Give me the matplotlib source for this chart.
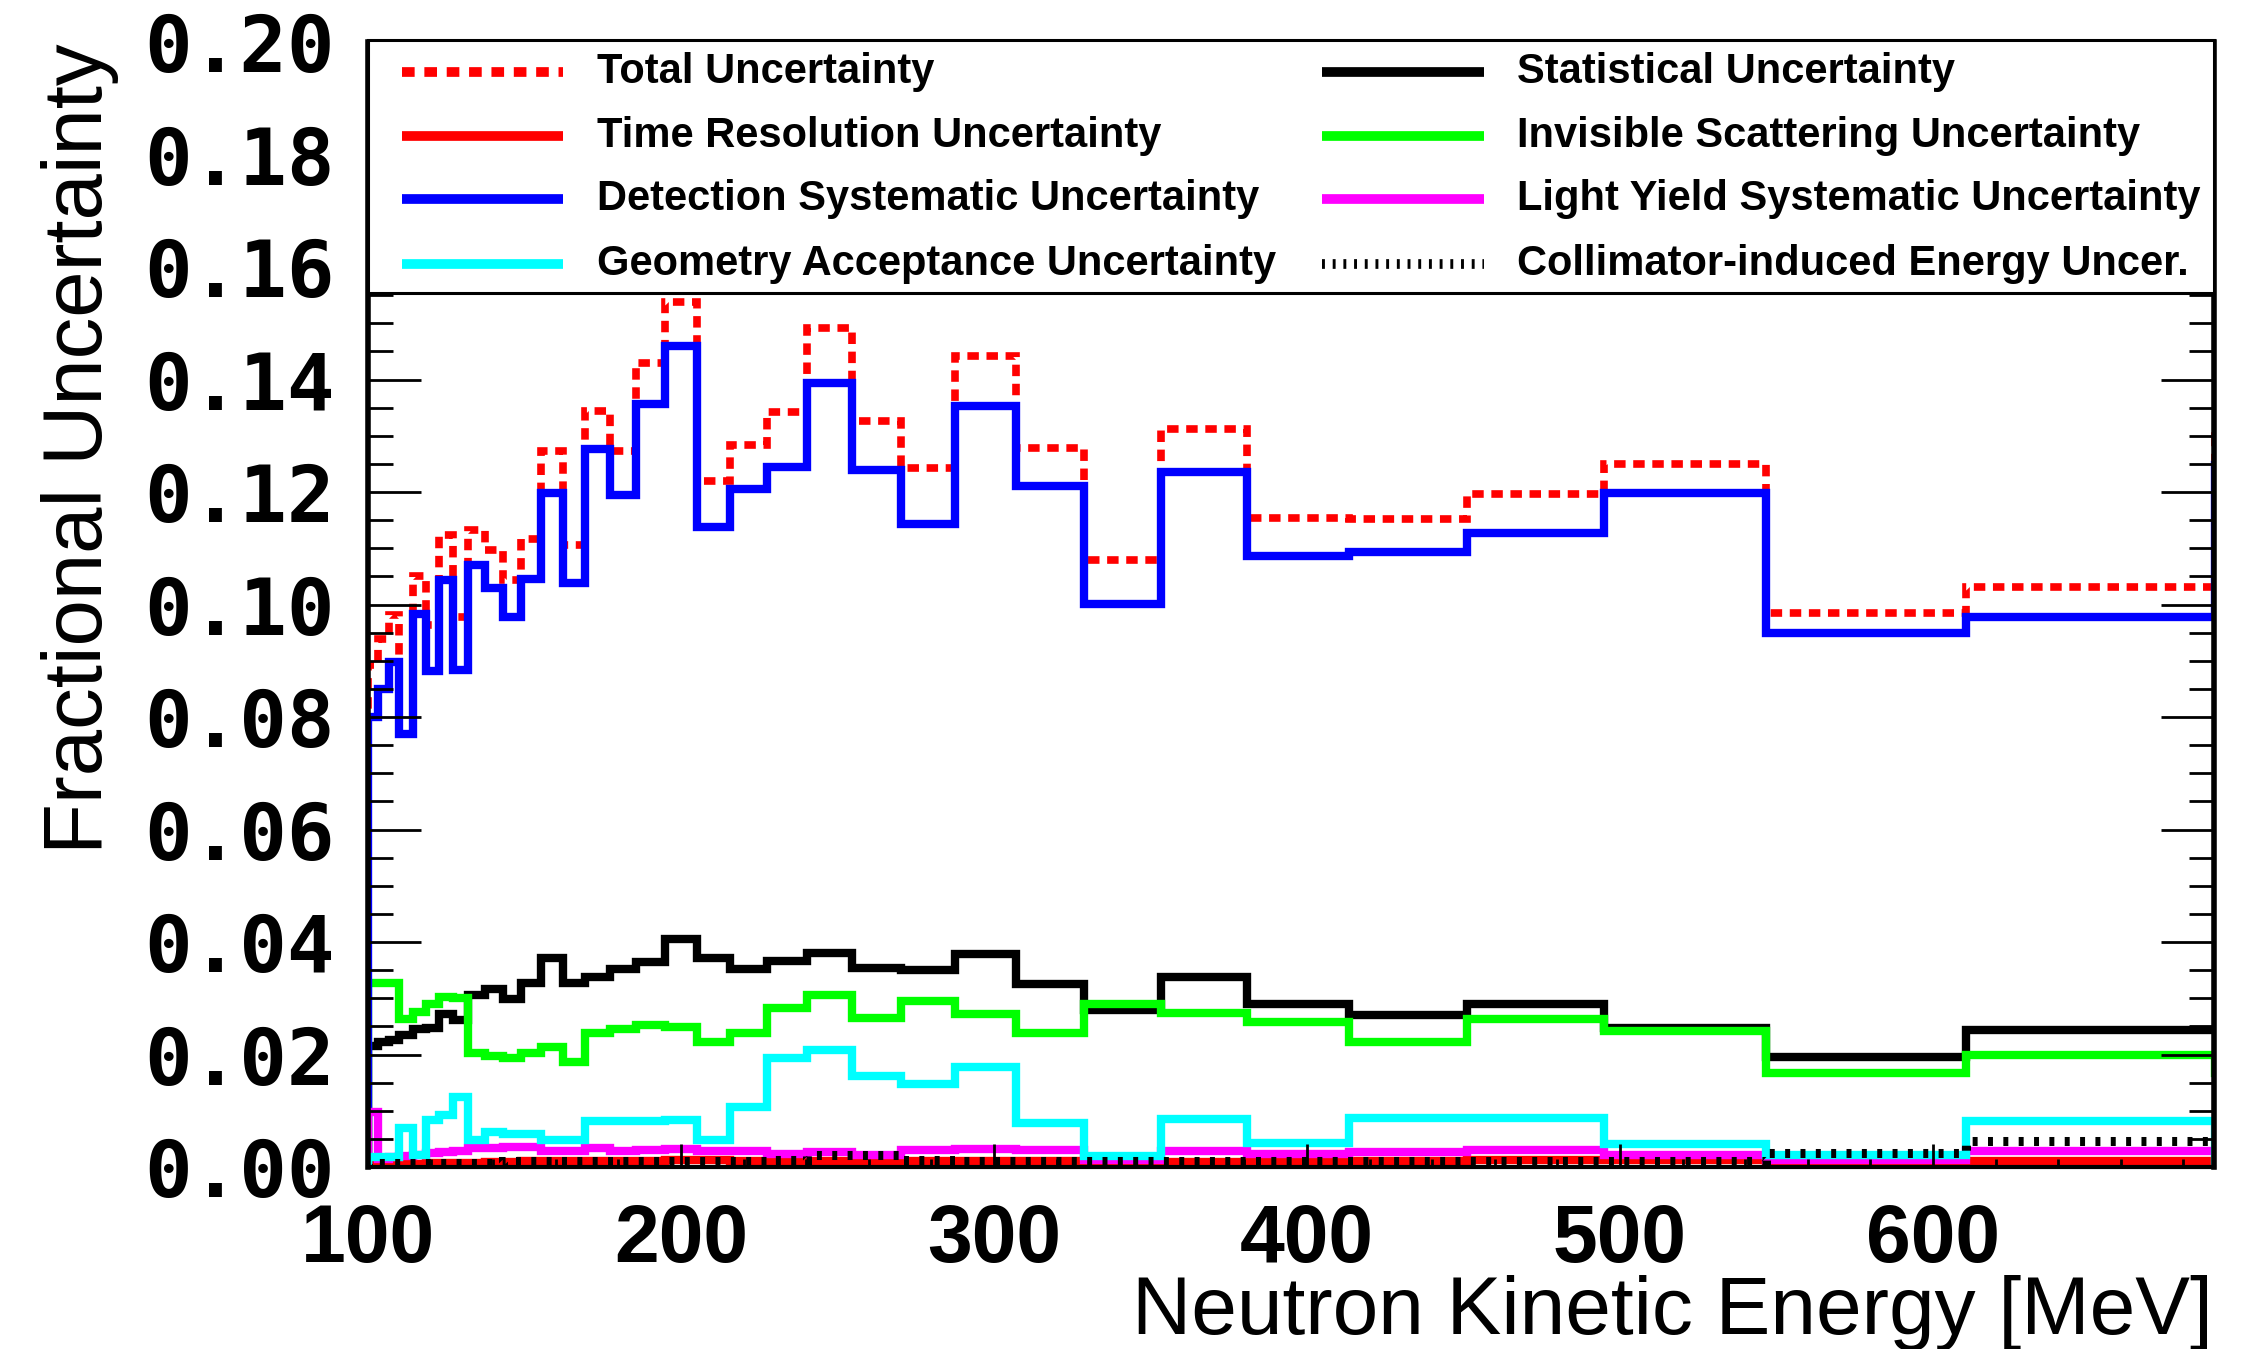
import matplotlib
matplotlib.use("Agg")
import matplotlib.pyplot as plt
from matplotlib.patches import Rectangle
from matplotlib.lines import Line2D
from matplotlib.ticker import MultipleLocator

# bin edges in neutron kinetic energy (MeV); last bin lies past the axis edge
energy_edges = [100.0, 103.3, 106.8, 110.0, 114.3, 118.5, 122.8, 127.3, 132.0, 137.4,
                143.0, 148.8, 155.2, 162.2, 169.3, 177.3, 185.6, 194.9, 205.0, 215.7,
                227.4, 240.4, 254.5, 270.2, 287.5, 306.9, 328.8, 353.4, 380.7, 413.3,
                451.1, 494.8, 546.8, 610.6, 690.0, 790.0]

total_unc = [0.0893, 0.0938, 0.0982, 0.0850, 0.1051, 0.0964, 0.1124, 0.0978, 0.1133, 0.1097,
             0.1043, 0.1116, 0.1273, 0.1106, 0.1344, 0.1273, 0.1430, 0.1537, 0.1219, 0.1283,
             0.1343, 0.1492, 0.1327, 0.1242, 0.1442, 0.1278, 0.1079, 0.1312, 0.1154, 0.1152,
             0.1196, 0.1249, 0.0985, 0.1032, 0.1300]
stat_unc = [0.0215, 0.0222, 0.0226, 0.0235, 0.0245, 0.0248, 0.0272, 0.0262, 0.0306, 0.0316,
            0.0298, 0.0327, 0.0371, 0.0327, 0.0338, 0.0352, 0.0364, 0.0406, 0.0371, 0.0352,
            0.0367, 0.0380, 0.0354, 0.0351, 0.0378, 0.0325, 0.0279, 0.0337, 0.0290, 0.0271,
            0.0289, 0.0247, 0.0196, 0.0243, 0.0243]
time_res_unc = [0.0004, 0.0005, 0.0005, 0.0006, 0.0006, 0.0007, 0.0007, 0.0008, 0.0008, 0.0009,
                0.0009, 0.0010, 0.0010, 0.0010, 0.0011, 0.0011, 0.0011, 0.0012, 0.0012, 0.0011,
                0.0011, 0.0011, 0.0010, 0.0010, 0.0010, 0.0010, 0.0008, 0.0009, 0.0011, 0.0011,
                0.0012, 0.0012, 0.0006, 0.0010, 0.0010]
invis_scat_unc = [0.0327, 0.0327, 0.0327, 0.0263, 0.0275, 0.0290, 0.0303, 0.0300, 0.0202, 0.0198,
                  0.0194, 0.0202, 0.0214, 0.0187, 0.0238, 0.0245, 0.0252, 0.0249, 0.0223, 0.0238,
                  0.0283, 0.0305, 0.0265, 0.0295, 0.0272, 0.0239, 0.0290, 0.0273, 0.0257, 0.0223,
                  0.0263, 0.0242, 0.0168, 0.0200, 0.0168]
detection_unc = [0.0800, 0.0850, 0.0898, 0.0770, 0.0984, 0.0881, 0.1043, 0.0884, 0.1070, 0.1029,
                 0.0978, 0.1046, 0.1198, 0.1038, 0.1276, 0.1195, 0.1357, 0.1459, 0.1138, 0.1206,
                 0.1245, 0.1394, 0.1240, 0.1144, 0.1353, 0.1210, 0.1001, 0.1235, 0.1086, 0.1093,
                 0.1127, 0.1199, 0.0950, 0.0978, 0.1248]
light_yield_unc = [0.0098, 0.0015, 0.0017, 0.0020, 0.0021, 0.0025, 0.0027, 0.0028, 0.0033, 0.0033,
                   0.0036, 0.0035, 0.0029, 0.0029, 0.0033, 0.0029, 0.0030, 0.0032, 0.0028, 0.0028,
                   0.0024, 0.0026, 0.0022, 0.0030, 0.0032, 0.0031, 0.0012, 0.0028, 0.0024, 0.0026,
                   0.0030, 0.0022, 0.0012, 0.0029, 0.0029]
geometry_unc = [0.0018, 0.0018, 0.0018, 0.0069, 0.0022, 0.0084, 0.0093, 0.0125, 0.0048, 0.0062,
                0.0058, 0.0058, 0.0048, 0.0048, 0.0081, 0.0081, 0.0082, 0.0083, 0.0048, 0.0107,
                0.0193, 0.0208, 0.0162, 0.0147, 0.0177, 0.0079, 0.0020, 0.0085, 0.0043, 0.0088,
                0.0087, 0.0041, 0.0022, 0.0082, 0.0004]
collimator_unc = [0.0008, 0.0008, 0.0008, 0.0008, 0.0008, 0.0008, 0.0008, 0.0008, 0.0008, 0.0008,
                  0.0010, 0.0010, 0.0010, 0.0010, 0.0010, 0.0010, 0.0010, 0.0010, 0.0010, 0.0010,
                  0.0012, 0.0022, 0.0022, 0.0012, 0.0010, 0.0010, 0.0010, 0.0010, 0.0010, 0.0010,
                  0.0010, 0.0010, 0.0025, 0.0046, 0.0046]

labels = ["Total Uncertainty", "Statistical Uncertainty",
          "Time Resolution Uncertainty", "Invisible Scattering Uncertainty",
          "Detection Systematic Uncertainty", "Light Yield Systematic Uncertainty",
          "Geometry Acceptance Uncertainty", "Collimator-induced Energy Uncer."]

xtick_values = [100, 200, 300, 400, 500, 600]
xtick_labels = ["100", "200", "300", "400", "500", "600"]
ytick_values = [0.00, 0.02, 0.04, 0.06, 0.08, 0.10, 0.12, 0.14, 0.16, 0.18, 0.20]
ytick_labels = ["0.00", "0.02", "0.04", "0.06", "0.08", "0.10", "0.12", "0.14", "0.16", "0.18", "0.20"]

# draw order / styles (same order as the legend entries)
series = [
    (total_unc, dict(color="#ff0000", lw=5.5, ls=(0, (1.5, 1.0)), capstyle="butt")),
    (stat_unc, dict(color="black", lw=6, ls="-")),
    (time_res_unc, dict(color="#ff0000", lw=6, ls="-")),
    (invis_scat_unc, dict(color="#00ff00", lw=6, ls="-")),
    (detection_unc, dict(color="#0000ff", lw=6, ls="-")),
    (light_yield_unc, dict(color="#ff00ff", lw=6, ls="-")),
    (geometry_unc, dict(color="#00ffff", lw=6, ls="-")),
    (collimator_unc, dict(color="black", lw=6.5, ls=(0, (0.55, 1.15)), capstyle="butt")),
]

fig = plt.figure(figsize=(22.65, 13.49), dpi=100)
ax = fig.add_axes([0.16247, 0.13491, 0.81501, 0.83395])

for vals, st in series:
    ax.stairs(vals, energy_edges, baseline=0, fill=False, color=st["color"],
              linewidth=st["lw"], linestyle=st["ls"], joinstyle="miter",
              capstyle=st.get("capstyle", "projecting"))

ax.set_xlim(100, 689.8)
ax.set_ylim(0, 0.2)

ax.set_xticks(xtick_values, labels=xtick_labels, fontfamily="Liberation Sans",
              fontweight="bold", fontsize=58)
ax.set_yticks(ytick_values, labels=ytick_labels, fontfamily="DejaVu Sans Mono",
              fontweight="bold", fontsize=57)
ax.xaxis.set_minor_locator(MultipleLocator(20))
ax.yaxis.set_minor_locator(MultipleLocator(0.005))
ax.tick_params(axis="x", which="major", direction="in", length=16.5, width=2, top=True, pad=26)
ax.tick_params(axis="x", which="minor", direction="in", length=6, width=2, top=True)
ax.tick_params(axis="y", which="major", direction="in", length=38, width=2, right=True, pad=24)
ax.tick_params(axis="y", which="minor", direction="in", length=18, width=2, right=True)
for side in ["left", "right"]:
    ax.spines[side].set_linewidth(4)
ax.spines["bottom"].set_linewidth(3)
ax.spines["top"].set_linewidth(2)

fig.text(80 / 2265, 1 - 43 / 1349, "Fractional Uncertainty", rotation=90,
         ha="center", va="top", fontsize=60, fontfamily="Liberation Sans")
fig.text(2213 / 2265, 1 - 1334 / 1349, "Neutron Kinetic Energy [MeV]",
         ha="right", va="baseline", fontsize=59, fontfamily="Liberation Sans")

# legend box, drawn on top of the plot
ax.add_patch(Rectangle((0, 0.7769), 1.0, 0.2249, transform=ax.transAxes,
                       facecolor="white", edgecolor="black", linewidth=2.2,
                       zorder=10, clip_on=False))
row_y = [0.9733, 0.9164, 0.8604, 0.8027]
col_x = [(0.0184, 0.1056, 0.124), (0.5168, 0.6046, 0.6224)]
for i, (lab, (vals, st)) in enumerate(zip(labels, series)):
    r, c = i // 2, i % 2
    x0, x1, xt = col_x[c]
    if i == 7:
        lw, ls = 7, (0, (0.3, 0.8))
    elif i == 0:
        lw, ls = 7, (0, (1.3, 1.0))
    else:
        lw, ls = 7, "-"
    ln = Line2D([x0, x1], [row_y[r], row_y[r]], transform=ax.transAxes, color=st["color"],
                linewidth=lw, linestyle=ls, solid_capstyle="butt", dash_capstyle="butt",
                zorder=11, clip_on=False)
    ax.add_line(ln)
    ax.text(xt, row_y[r], lab, transform=ax.transAxes, ha="left", va="center",
            fontsize=30, fontweight="bold", fontfamily="Liberation Sans", zorder=12)

fig.savefig("out.png", dpi=100)
